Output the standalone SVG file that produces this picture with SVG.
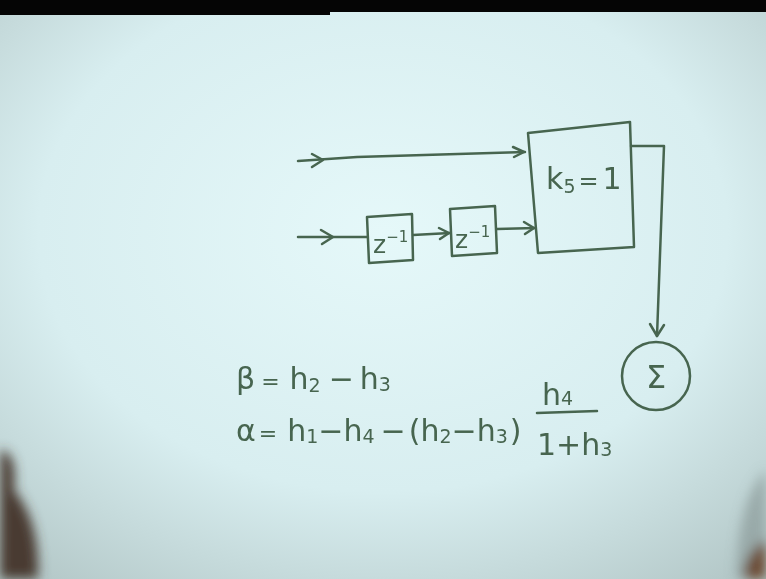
<svg xmlns="http://www.w3.org/2000/svg" width="766" height="579" viewBox="0 0 766 579">
  <defs>
    <radialGradient id="paper" cx="0.5" cy="0.4" r="0.75">
      <stop offset="0" stop-color="#e5f8f9"/>
      <stop offset="0.6" stop-color="#d8eef0"/>
      <stop offset="1" stop-color="#b4c8c8"/>
    </radialGradient>
    <filter id="blur" x="-50%" y="-50%" width="200%" height="200%">
      <feGaussianBlur stdDeviation="6"/>
    </filter>
    <style>
      .ink { fill: none; stroke: #47654f; stroke-width: 2.5; stroke-linecap: round; stroke-linejoin: round; }
      .t { font-family: "DejaVu Sans", "Liberation Sans", sans-serif; fill: #47654f; }
      .eq { font-size: 30px; }
      .sub { font-size: 19px; }
    </style>
  </defs>

  <!-- paper / scene -->
  <rect x="0" y="0" width="766" height="579" fill="url(#paper)"/>
  <path d="M0,0 H766 V12 H330 V15 H0 Z" fill="#050505"/>
  <g filter="url(#blur)">
    <path d="M0,450 C14,452 16,470 14,490 C26,505 40,530 38,579 H0 Z" fill="#4a3a30"/>
    <path d="M766,470 C748,490 738,520 736,579 H766 Z" fill="#8a9a98" opacity="0.7"/>
    <path d="M766,540 C752,548 744,565 744,579 H766 Z" fill="#6a4a32"/>
  </g>

  <!-- connectors -->
  <g id="connectors" class="ink">
    <!-- top input line -->
    <path d="M298,161 L357,157 L525,152"/>
    <path d="M312,154 L323,160 L312,167"/>
    <path d="M513,147 L524,152 L514,157"/>
    <!-- bottom input line -->
    <path d="M298,237 L367,237"/>
    <path d="M321,230 L333,237 L322,244"/>
    <!-- delay1 to delay2 -->
    <path d="M413,235 L450,233"/>
    <path d="M439,228 L449,233 L440,239"/>
    <!-- delay2 to big box -->
    <path d="M497,229 L535,228"/>
    <path d="M524,222 L534,228 L525,234"/>
    <!-- output to sum -->
    <path d="M631,146 L664,146 L657,336"/>
    <path d="M650,324 L657,336 L664,325"/>
  </g>

  <!-- big block -->
  <g id="block-k5">
    <path class="ink" d="M528,133 L630,122 L634,247 L538,253 Z"/>
    <text class="t" x="546" y="189" font-size="30">k<tspan class="sub" font-size="18" dy="4">5</tspan><tspan dx="3" dy="-4" font-size="24">=</tspan><tspan dx="4">1</tspan></text>
  </g>

  <!-- delay 1 -->
  <g id="delay1">
    <path class="ink" d="M367,217 L412,214 L413,260 L369,263 Z"/>
    <text class="t" x="373" y="253" font-size="25">z<tspan dy="-11" font-size="15">−1</tspan></text>
  </g>

  <!-- delay 2 -->
  <g id="delay2">
    <path class="ink" d="M450,209 L495,206 L497,253 L452,256 Z"/>
    <text class="t" x="455" y="248" font-size="25">z<tspan dy="-11" font-size="15">−1</tspan></text>
  </g>

  <!-- summing node -->
  <g id="sum">
    <circle class="ink" cx="656" cy="376" r="34"/>
    <text class="t" x="656" y="388" font-size="32" text-anchor="middle">Σ</text>
  </g>

  <!-- equations -->
  <g id="equations" class="t">
    <text class="eq" x="236" y="389">β<tspan dx="6" font-size="22">=</tspan><tspan dx="10">h</tspan><tspan class="sub" dy="3">2</tspan><tspan dx="8" dy="-3">−</tspan><tspan dx="6">h</tspan><tspan class="sub" dy="2">3</tspan></text>
    <text class="eq" x="236" y="441">α<tspan dx="3" font-size="22">=</tspan><tspan dx="10">h</tspan><tspan class="sub" dy="2">1</tspan><tspan dy="-2">−</tspan><tspan>h</tspan><tspan class="sub" dy="2">4</tspan><tspan dx="6" dy="-2">−</tspan><tspan dx="3">(</tspan><tspan>h</tspan><tspan class="sub" dy="2">2</tspan><tspan dy="-2">−</tspan><tspan>h</tspan><tspan class="sub" dy="2">3</tspan><tspan dx="2" dy="-2">)</tspan></text>
    <text class="eq" x="542" y="405">h<tspan class="sub">4</tspan></text>
    <path class="ink" d="M537,413 L597,411"/>
    <text class="eq" x="537" y="455">1+h<tspan class="sub" dy="1">3</tspan></text>
  </g>
</svg>
